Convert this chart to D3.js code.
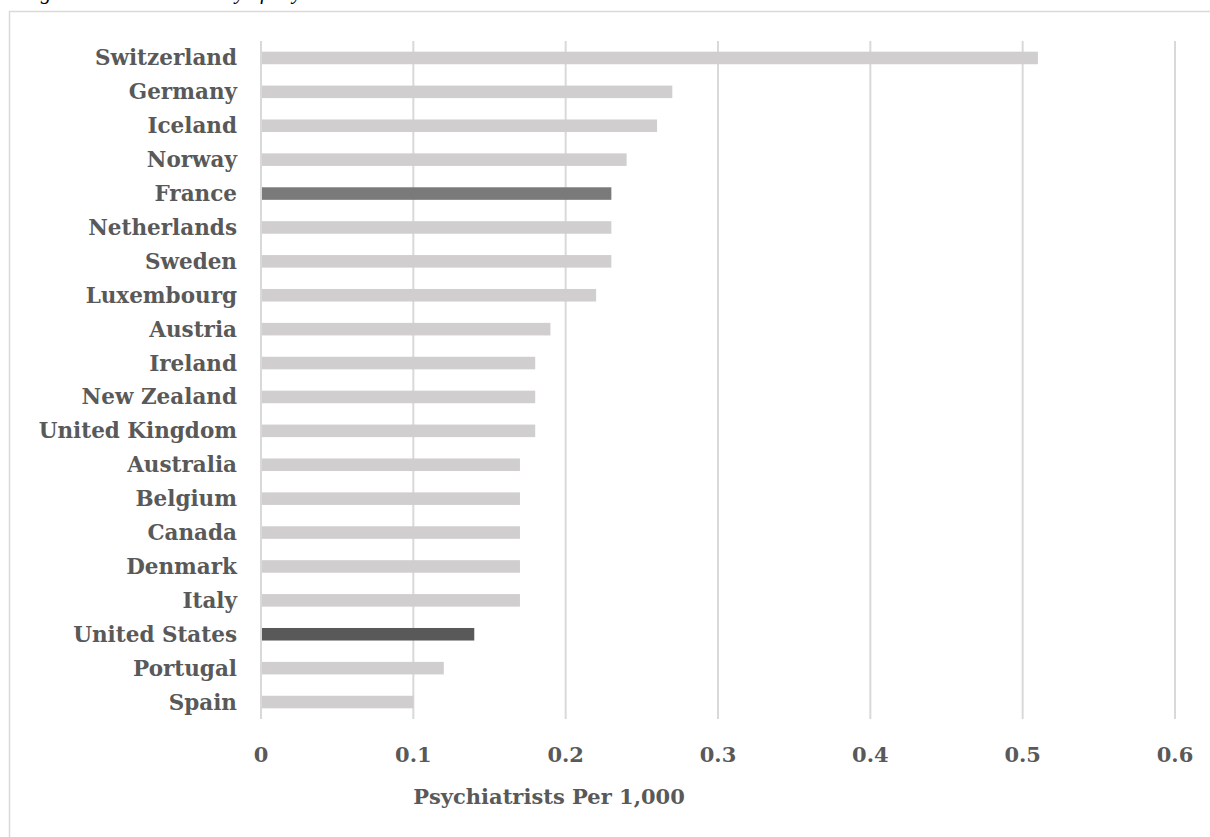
<!DOCTYPE html>
<html><head><meta charset="utf-8">
<script src="https://cdn.jsdelivr.net/npm/d3@7"></script>
<style>html,body{margin:0;padding:0;background:#fff;overflow:hidden}</style>
</head><body>
<svg id="c" width="1210" height="837"></svg>
<script>
const countries = ["Switzerland","Germany","Iceland","Norway","France","Netherlands","Sweden","Luxembourg","Austria","Ireland","New Zealand","United Kingdom","Australia","Belgium","Canada","Denmark","Italy","United States","Portugal","Spain"];
const values = [0.51,0.27,0.26,0.24,0.23,0.23,0.23,0.22,0.19,0.18,0.18,0.18,0.17,0.17,0.17,0.17,0.17,0.14,0.12,0.10];
const highlight = {"France":"#7a7a7a","United States":"#595959"};
const tickValues = [0,0.1,0.2,0.3,0.4,0.5,0.6];
const xTitle = "Psychiatrists Per 1,000";
const figTitle = "Figure 4: Relative Density of Psychiatrists";

const svg = d3.select("#c");
const ml = 261, mr = 1175, mt = 41, mb = 719;
const x = d3.scaleLinear().domain([0,0.6]).range([ml,mr]);
const y = d3.scaleBand().domain(countries).range([mt,mb]).paddingInner(0.63).paddingOuter(0.315);

const font = "'DejaVu Serif', serif";
const txt = "#595959";

// figure title (cut off at top, as in the source)
svg.append("text").attr("x",22).attr("y",-1).attr("font-family","'Liberation Serif', serif")
  .attr("font-style","italic").attr("font-size",21).attr("fill","#000").text(figTitle);

// frame
svg.append("rect").attr("x",9.5).attr("y",11.5).attr("width",1300).attr("height",900)
  .attr("fill","none").attr("stroke","#d9d9d9").attr("stroke-width",1.5);

// gridlines
svg.append("g").selectAll("line").data(tickValues).join("line")
  .attr("x1",d=>x(d)).attr("x2",d=>x(d)).attr("y1",mt).attr("y2",mb)
  .attr("stroke","#d9d9d9").attr("stroke-width",2);

// bars
svg.append("g").selectAll("rect").data(countries).join("rect")
  .attr("x",x(0)+1).attr("y",d=>y(d)).attr("height",y.bandwidth())
  .attr("width",(d,i)=>x(values[i])-x(0)-1)
  .attr("fill",d=>highlight[d]||"#d0cece");

// category labels
svg.append("g").selectAll("text").data(countries).join("text")
  .attr("x",237).attr("y",d=>y(d)+y.bandwidth()/2).attr("dy","0.35em")
  .attr("text-anchor","end").attr("font-family",font).attr("font-weight","bold")
  .attr("font-size",21.5).attr("fill",txt).text(d=>d);

// tick labels
svg.append("g").selectAll("text").data(tickValues).join("text")
  .attr("x",d=>x(d)).attr("y",755).attr("dy","0.35em").attr("text-anchor","middle")
  .attr("font-family",font).attr("font-weight","bold").attr("font-size",21).attr("fill",txt)
  .text(d=>d3.format("")(d));

// axis title
svg.append("text").attr("x",549).attr("y",797).attr("dy","0.35em").attr("text-anchor","middle")
  .attr("font-family",font).attr("font-weight","bold").attr("font-size",21).attr("fill",txt)
  .text(xTitle);
</script>
</body></html>
